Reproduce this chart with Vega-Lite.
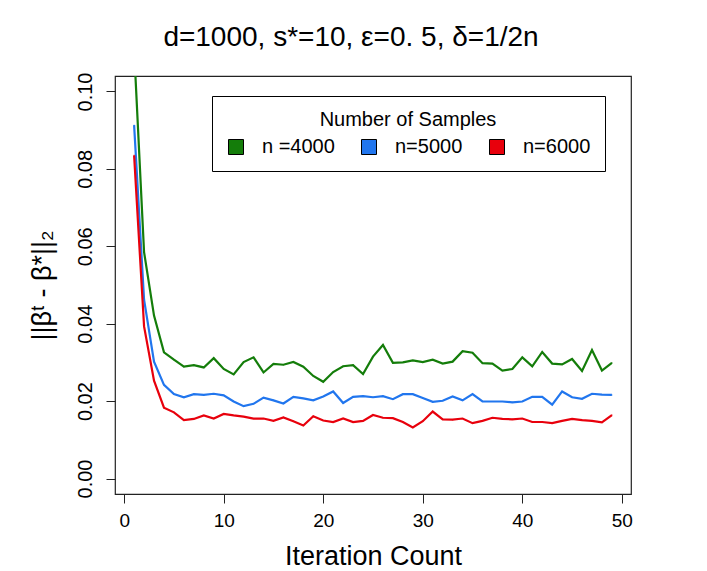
{
  "$schema": "https://vega.github.io/schema/vega-lite/v6.json",
  "autosize": "none",
  "padding": {"left": 115, "top": 76, "right": 76, "bottom": 77},
  "width": 516,
  "height": 418,
  "background": "white",
  "title": {
    "text": "d=1000, s*=10, ε=0. 5, δ=1/2n",
    "font": "Liberation Sans",
    "fontSize": 28,
    "fontWeight": "normal",
    "color": "black",
    "anchor": "middle",
    "dx": -22,
    "offset": 20
  },
  "config": {
    "view": {"stroke": "#222222", "strokeWidth": 1.2},
    "axis": {
      "labelFont": "Liberation Sans",
      "titleFont": "Liberation Sans",
      "labelColor": "black",
      "titleColor": "black",
      "tickColor": "#222222",
      "tickSize": 9,
      "domain": false,
      "grid": false,
      "titleFontWeight": "normal"
    },
    "legend": {
      "labelFont": "Liberation Sans",
      "titleFont": "Liberation Sans"
    }
  },
  "data": {
    "values": [
      {"iter": 1, "value": 0.111, "series": "n =4000"},
      {"iter": 2, "value": 0.0585, "series": "n =4000"},
      {"iter": 3, "value": 0.0421, "series": "n =4000"},
      {"iter": 4, "value": 0.0326, "series": "n =4000"},
      {"iter": 5, "value": 0.0307, "series": "n =4000"},
      {"iter": 6, "value": 0.0289, "series": "n =4000"},
      {"iter": 7, "value": 0.0293, "series": "n =4000"},
      {"iter": 8, "value": 0.0287, "series": "n =4000"},
      {"iter": 9, "value": 0.0311, "series": "n =4000"},
      {"iter": 10, "value": 0.0283, "series": "n =4000"},
      {"iter": 11, "value": 0.0269, "series": "n =4000"},
      {"iter": 12, "value": 0.0301, "series": "n =4000"},
      {"iter": 13, "value": 0.0313, "series": "n =4000"},
      {"iter": 14, "value": 0.0274, "series": "n =4000"},
      {"iter": 15, "value": 0.0296, "series": "n =4000"},
      {"iter": 16, "value": 0.0294, "series": "n =4000"},
      {"iter": 17, "value": 0.0301, "series": "n =4000"},
      {"iter": 18, "value": 0.0289, "series": "n =4000"},
      {"iter": 19, "value": 0.0265, "series": "n =4000"},
      {"iter": 20, "value": 0.0250, "series": "n =4000"},
      {"iter": 21, "value": 0.0275, "series": "n =4000"},
      {"iter": 22, "value": 0.0290, "series": "n =4000"},
      {"iter": 23, "value": 0.0293, "series": "n =4000"},
      {"iter": 24, "value": 0.0270, "series": "n =4000"},
      {"iter": 25, "value": 0.0315, "series": "n =4000"},
      {"iter": 26, "value": 0.0345, "series": "n =4000"},
      {"iter": 27, "value": 0.0299, "series": "n =4000"},
      {"iter": 28, "value": 0.0300, "series": "n =4000"},
      {"iter": 29, "value": 0.0305, "series": "n =4000"},
      {"iter": 30, "value": 0.0301, "series": "n =4000"},
      {"iter": 31, "value": 0.0307, "series": "n =4000"},
      {"iter": 32, "value": 0.0297, "series": "n =4000"},
      {"iter": 33, "value": 0.0302, "series": "n =4000"},
      {"iter": 34, "value": 0.0329, "series": "n =4000"},
      {"iter": 35, "value": 0.0325, "series": "n =4000"},
      {"iter": 36, "value": 0.0298, "series": "n =4000"},
      {"iter": 37, "value": 0.0297, "series": "n =4000"},
      {"iter": 38, "value": 0.0279, "series": "n =4000"},
      {"iter": 39, "value": 0.0283, "series": "n =4000"},
      {"iter": 40, "value": 0.0313, "series": "n =4000"},
      {"iter": 41, "value": 0.0290, "series": "n =4000"},
      {"iter": 42, "value": 0.0327, "series": "n =4000"},
      {"iter": 43, "value": 0.0297, "series": "n =4000"},
      {"iter": 44, "value": 0.0295, "series": "n =4000"},
      {"iter": 45, "value": 0.0309, "series": "n =4000"},
      {"iter": 46, "value": 0.0278, "series": "n =4000"},
      {"iter": 47, "value": 0.0332, "series": "n =4000"},
      {"iter": 48, "value": 0.0279, "series": "n =4000"},
      {"iter": 49, "value": 0.0299, "series": "n =4000"},
      {"iter": 1, "value": 0.0913, "series": "n=5000"},
      {"iter": 2, "value": 0.0462, "series": "n=5000"},
      {"iter": 3, "value": 0.0302, "series": "n=5000"},
      {"iter": 4, "value": 0.0242, "series": "n=5000"},
      {"iter": 5, "value": 0.0218, "series": "n=5000"},
      {"iter": 6, "value": 0.0210, "series": "n=5000"},
      {"iter": 7, "value": 0.0218, "series": "n=5000"},
      {"iter": 8, "value": 0.0216, "series": "n=5000"},
      {"iter": 9, "value": 0.0219, "series": "n=5000"},
      {"iter": 10, "value": 0.0215, "series": "n=5000"},
      {"iter": 11, "value": 0.0199, "series": "n=5000"},
      {"iter": 12, "value": 0.0187, "series": "n=5000"},
      {"iter": 13, "value": 0.0193, "series": "n=5000"},
      {"iter": 14, "value": 0.0209, "series": "n=5000"},
      {"iter": 15, "value": 0.0202, "series": "n=5000"},
      {"iter": 16, "value": 0.0194, "series": "n=5000"},
      {"iter": 17, "value": 0.0211, "series": "n=5000"},
      {"iter": 18, "value": 0.0207, "series": "n=5000"},
      {"iter": 19, "value": 0.0202, "series": "n=5000"},
      {"iter": 20, "value": 0.0212, "series": "n=5000"},
      {"iter": 21, "value": 0.0225, "series": "n=5000"},
      {"iter": 22, "value": 0.0195, "series": "n=5000"},
      {"iter": 23, "value": 0.0211, "series": "n=5000"},
      {"iter": 24, "value": 0.0213, "series": "n=5000"},
      {"iter": 25, "value": 0.0210, "series": "n=5000"},
      {"iter": 26, "value": 0.0213, "series": "n=5000"},
      {"iter": 27, "value": 0.0205, "series": "n=5000"},
      {"iter": 28, "value": 0.0218, "series": "n=5000"},
      {"iter": 29, "value": 0.0218, "series": "n=5000"},
      {"iter": 30, "value": 0.0208, "series": "n=5000"},
      {"iter": 31, "value": 0.0198, "series": "n=5000"},
      {"iter": 32, "value": 0.0201, "series": "n=5000"},
      {"iter": 33, "value": 0.0212, "series": "n=5000"},
      {"iter": 34, "value": 0.0202, "series": "n=5000"},
      {"iter": 35, "value": 0.0218, "series": "n=5000"},
      {"iter": 36, "value": 0.0199, "series": "n=5000"},
      {"iter": 37, "value": 0.0199, "series": "n=5000"},
      {"iter": 38, "value": 0.0199, "series": "n=5000"},
      {"iter": 39, "value": 0.0197, "series": "n=5000"},
      {"iter": 40, "value": 0.0199, "series": "n=5000"},
      {"iter": 41, "value": 0.0211, "series": "n=5000"},
      {"iter": 42, "value": 0.0211, "series": "n=5000"},
      {"iter": 43, "value": 0.0191, "series": "n=5000"},
      {"iter": 44, "value": 0.0225, "series": "n=5000"},
      {"iter": 45, "value": 0.0210, "series": "n=5000"},
      {"iter": 46, "value": 0.0206, "series": "n=5000"},
      {"iter": 47, "value": 0.0219, "series": "n=5000"},
      {"iter": 48, "value": 0.0217, "series": "n=5000"},
      {"iter": 49, "value": 0.0216, "series": "n=5000"},
      {"iter": 1, "value": 0.0835, "series": "n=6000"},
      {"iter": 2, "value": 0.0393, "series": "n=6000"},
      {"iter": 3, "value": 0.0253, "series": "n=6000"},
      {"iter": 4, "value": 0.0183, "series": "n=6000"},
      {"iter": 5, "value": 0.0171, "series": "n=6000"},
      {"iter": 6, "value": 0.0151, "series": "n=6000"},
      {"iter": 7, "value": 0.0154, "series": "n=6000"},
      {"iter": 8, "value": 0.0163, "series": "n=6000"},
      {"iter": 9, "value": 0.0155, "series": "n=6000"},
      {"iter": 10, "value": 0.0167, "series": "n=6000"},
      {"iter": 11, "value": 0.0163, "series": "n=6000"},
      {"iter": 12, "value": 0.0160, "series": "n=6000"},
      {"iter": 13, "value": 0.0155, "series": "n=6000"},
      {"iter": 14, "value": 0.0155, "series": "n=6000"},
      {"iter": 15, "value": 0.0149, "series": "n=6000"},
      {"iter": 16, "value": 0.0158, "series": "n=6000"},
      {"iter": 17, "value": 0.0148, "series": "n=6000"},
      {"iter": 18, "value": 0.0137, "series": "n=6000"},
      {"iter": 19, "value": 0.0161, "series": "n=6000"},
      {"iter": 20, "value": 0.0150, "series": "n=6000"},
      {"iter": 21, "value": 0.0146, "series": "n=6000"},
      {"iter": 22, "value": 0.0155, "series": "n=6000"},
      {"iter": 23, "value": 0.0146, "series": "n=6000"},
      {"iter": 24, "value": 0.0149, "series": "n=6000"},
      {"iter": 25, "value": 0.0164, "series": "n=6000"},
      {"iter": 26, "value": 0.0157, "series": "n=6000"},
      {"iter": 27, "value": 0.0156, "series": "n=6000"},
      {"iter": 28, "value": 0.0146, "series": "n=6000"},
      {"iter": 29, "value": 0.0132, "series": "n=6000"},
      {"iter": 30, "value": 0.0148, "series": "n=6000"},
      {"iter": 31, "value": 0.0173, "series": "n=6000"},
      {"iter": 32, "value": 0.0153, "series": "n=6000"},
      {"iter": 33, "value": 0.0152, "series": "n=6000"},
      {"iter": 34, "value": 0.0155, "series": "n=6000"},
      {"iter": 35, "value": 0.0143, "series": "n=6000"},
      {"iter": 36, "value": 0.0149, "series": "n=6000"},
      {"iter": 37, "value": 0.0157, "series": "n=6000"},
      {"iter": 38, "value": 0.0154, "series": "n=6000"},
      {"iter": 39, "value": 0.0153, "series": "n=6000"},
      {"iter": 40, "value": 0.0155, "series": "n=6000"},
      {"iter": 41, "value": 0.0146, "series": "n=6000"},
      {"iter": 42, "value": 0.0146, "series": "n=6000"},
      {"iter": 43, "value": 0.0143, "series": "n=6000"},
      {"iter": 44, "value": 0.0149, "series": "n=6000"},
      {"iter": 45, "value": 0.0154, "series": "n=6000"},
      {"iter": 46, "value": 0.0151, "series": "n=6000"},
      {"iter": 47, "value": 0.0149, "series": "n=6000"},
      {"iter": 48, "value": 0.0145, "series": "n=6000"},
      {"iter": 49, "value": 0.0164, "series": "n=6000"}
    ]
  },
  "encoding": {
    "x": {
      "field": "iter",
      "type": "quantitative",
      "title": "Iteration Count",
      "scale": {"domain": [-0.92, 50.92], "nice": false, "zero": false},
      "axis": {
        "values": [0, 10, 20, 30, 40, 50],
        "labelFontSize": 19,
        "labelPadding": 8,
        "titleFontSize": 27,
        "titlePadding": 13
      }
    },
    "y": {
      "field": "value",
      "type": "quantitative",
      "title": "||βᵗ - β*||₂",
      "scale": {"domain": [-0.004, 0.104], "nice": false, "zero": false},
      "axis": {
        "values": [0, 0.02, 0.04, 0.06, 0.08, 0.1],
        "format": ".2f",
        "labelFontSize": 20,
        "labelAngle": 270,
        "labelAlign": "center",
        "labelBaseline": "bottom",
        "labelPadding": 11,
        "titleFontSize": 27,
        "titlePadding": 19
      }
    }
  },
  "layer": [
    {
      "mark": {"type": "line", "strokeWidth": 2.2, "clip": true},
      "encoding": {
        "stroke": {
          "field": "series",
          "type": "nominal",
          "scale": {"range": ["#147d0a", "#2176ee", "#e8000c"]},
          "legend": null
        }
      }
    },
    {
      "mark": {"type": "point", "shape": "square", "filled": true, "size": 1, "opacity": 1, "clip": true},
      "encoding": {
        "fill": {
          "field": "series",
          "type": "nominal",
          "scale": {
            "domain": ["n =4000", "n=5000", "n=6000"],
            "range": ["#147d0a", "#2176ee", "#e8000c"]
          },
          "legend": {
            "title": "Number of Samples",
            "orient": "none",
            "legendX": 97,
            "legendY": 20,
            "direction": "horizontal",
            "columns": 3,
            "columnPadding": 24,
            "padding": 14,
            "strokeColor": "black",
            "fillColor": "white",
            "symbolType": "square",
            "symbolSize": 225,
            "symbolOpacity": 1,
            "symbolStrokeColor": "black",
            "symbolStrokeWidth": 1,
            "labelFontSize": 20,
            "labelColor": "black",
            "labelOffset": 16,
            "titleFontSize": 20,
            "titleFontWeight": "normal",
            "titleColor": "black",
            "titleAnchor": "middle",
            "titlePadding": 7
          }
        }
      }
    }
  ]
}
